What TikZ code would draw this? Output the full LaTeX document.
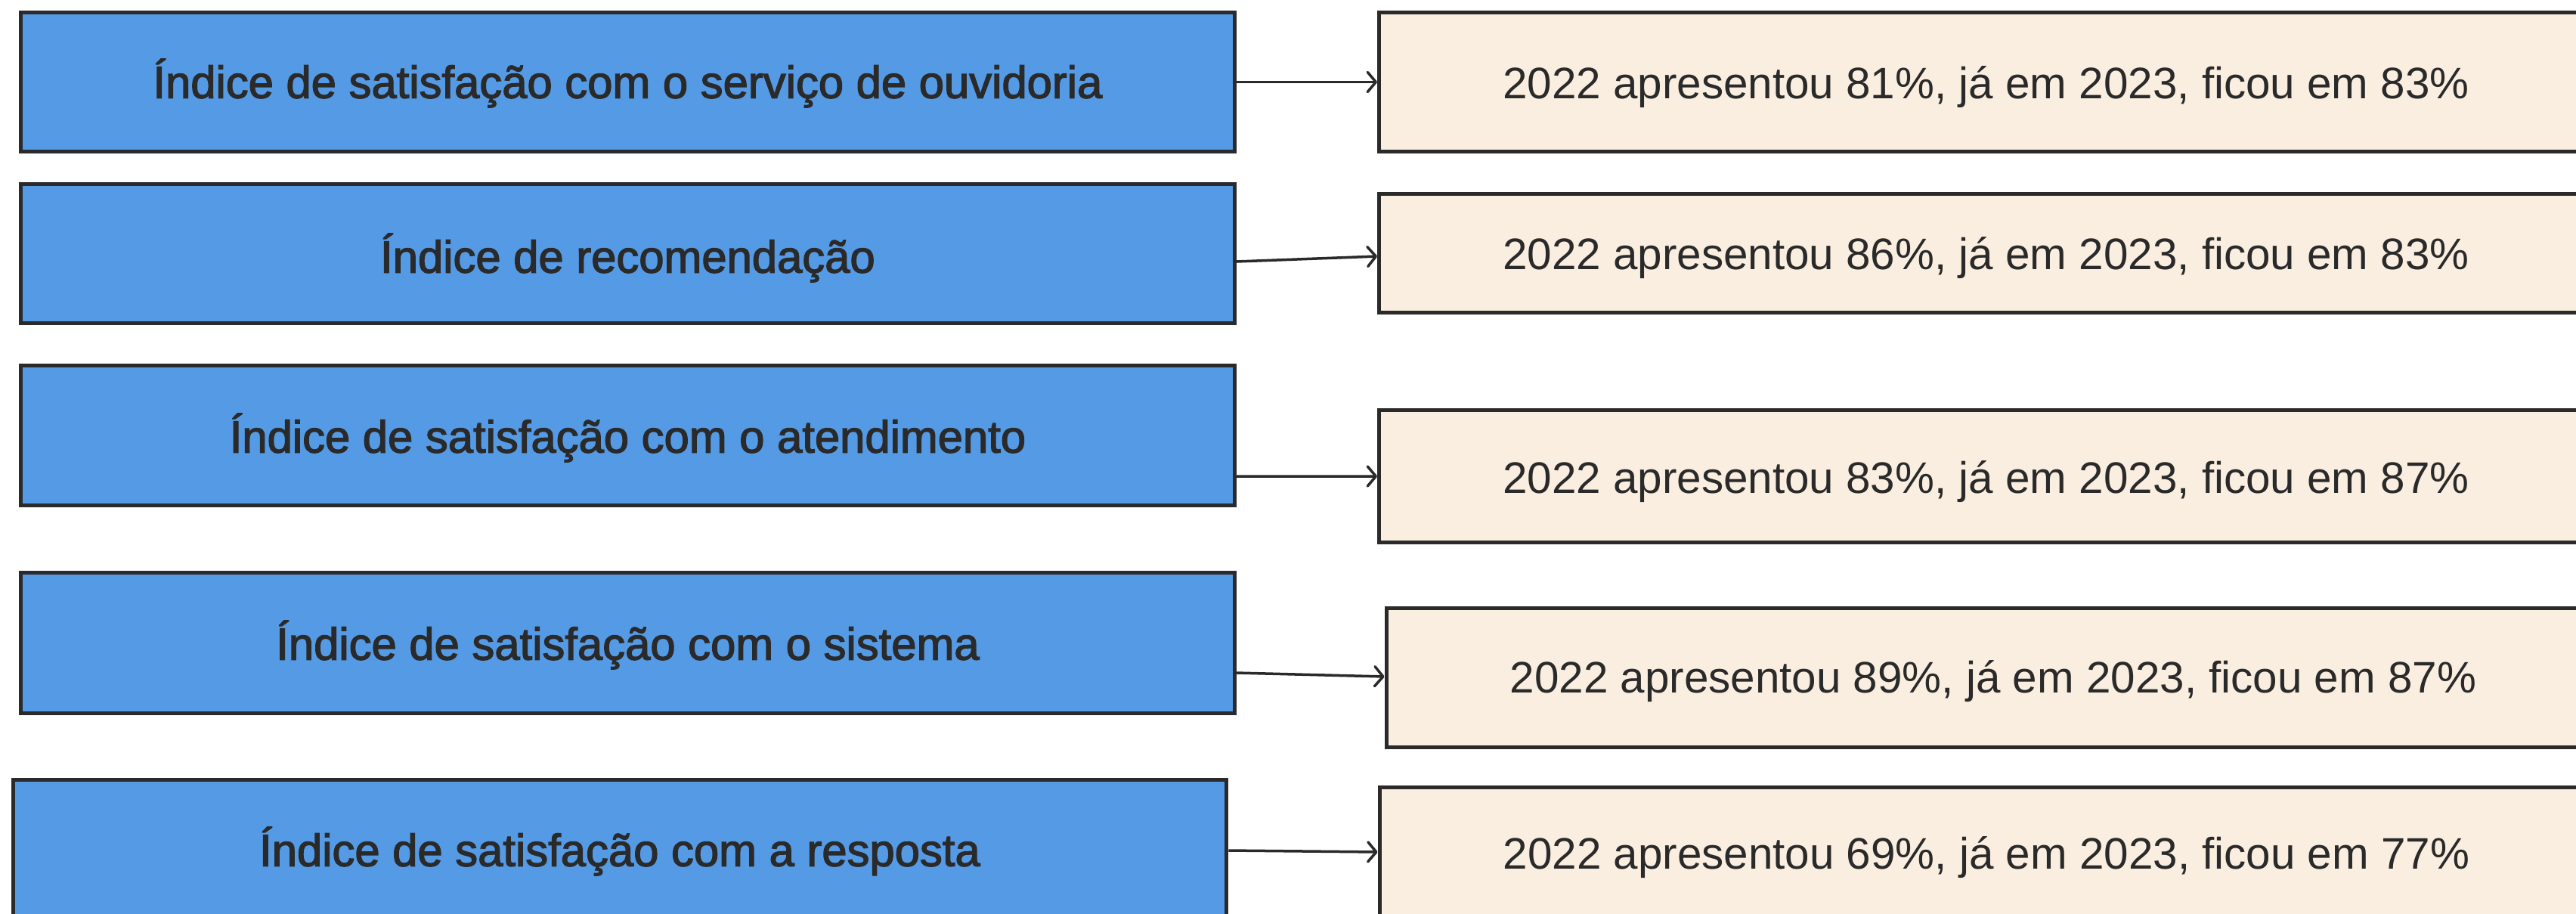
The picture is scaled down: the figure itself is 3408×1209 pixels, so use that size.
\documentclass[tikz,border=0pt]{standalone}
\usepackage{fontspec}
\setmainfont{Liberation Sans}
\newfontfamily\medfont{Liberation Sans}[FakeBold=2.2]
\usetikzlibrary{arrows.meta}
\definecolor{boxblue}{HTML}{559AE4}
\definecolor{boxcream}{HTML}{FAEEE0}
\definecolor{ink}{HTML}{2A2A2A}
\tikzset{
  bluebox/.style={draw=ink, fill=boxblue, line width=0.05cm, inner sep=0pt,
    minimum width=16.05cm},
  creambox/.style={draw=ink, fill=boxcream, line width=0.05cm, inner sep=0pt,
    minimum width=16.05cm},
  bluetext/.style={text=ink, inner sep=0pt, font=\medfont\fontsize{17.0}{20}\selectfont},
  creamtext/.style={text=ink, inner sep=0pt, font=\fontsize{16.6}{20}\selectfont},
  link/.style={draw=ink, line width=0.035cm, -{Straight Barb[length=1.1mm,width=2.6mm,round]}}
}
\begin{document}
\begin{tikzpicture}[x=0.01cm, y=-0.01cm]
\useasboundingbox (0,0) rectangle (3408,1209);
\clip (0,0) rectangle (3408,1209);
\fill[white] (0,0) rectangle (3408,1209);
% left boxes
\node[bluebox, minimum height=1.83cm] (b1) at (830.5,108.5) {};
\node[bluebox, minimum height=1.83cm] (b2) at (830.5,335.5) {};
\node[bluebox, minimum height=1.84cm] (b3) at (830.5,576) {};
\node[bluebox, minimum height=1.85cm] (b4) at (830.5,850.5) {};
\node[bluebox, minimum height=1.86cm] (b5) at (820,1125) {};
\node[bluetext] (t1) at (830.5,110) {Índice de satisfação com o serviço de ouvidoria};
\node[bluetext] (t2) at (830.5,341) {Índice de recomendação};
\node[bluetext] (t3) at (830.5,579) {Índice de satisfação com o atendimento};
\node[bluetext] (t4) at (830.5,853) {Índice de satisfação com o sistema};
\node[bluetext] (t5) at (820,1126) {Índice de satisfação com a resposta};
% right boxes
\node[creambox, minimum height=1.83cm] (c1) at (2627.5,108.5) {};
\node[creambox, minimum height=1.56cm] (c2) at (2627.5,335) {};
\node[creambox, minimum height=1.74cm] (c3) at (2627.5,630) {};
\node[creambox, minimum height=1.83cm] (c4) at (2637,896.5) {};
\node[creambox, minimum height=1.73cm] (c5) at (2628,1128.5) {};
\node[creamtext] (u1) at (2627.5,115) {2022 apresentou 81\%, já em 2023, ficou em 83\%};
\node[creamtext] (u2) at (2627.5,341) {2022 apresentou 86\%, já em 2023, ficou em 83\%};
\node[creamtext] (u3) at (2627.5,637) {2022 apresentou 83\%, já em 2023, ficou em 87\%};
\node[creamtext] (u4) at (2637,901) {2022 apresentou 89\%, já em 2023, ficou em 87\%};
\node[creamtext] (u5) at (2628,1134) {2022 apresentou 69\%, já em 2023, ficou em 77\%};
% connectors
\draw[link] (b1.east) -- (c1.west);
\draw[link] ([yshift=-0.105cm]b2.east) -- ([yshift=-0.04cm]c2.west);
\draw[link] ([yshift=-0.54cm]b3.east) -- (c3.west);
\draw[link] ([yshift=-0.395cm]b4.east) -- ([yshift=0.015cm]c4.west);
\draw[link] (b5.east) -- ([yshift=0.015cm]c5.west);
\end{tikzpicture}
\end{document}
